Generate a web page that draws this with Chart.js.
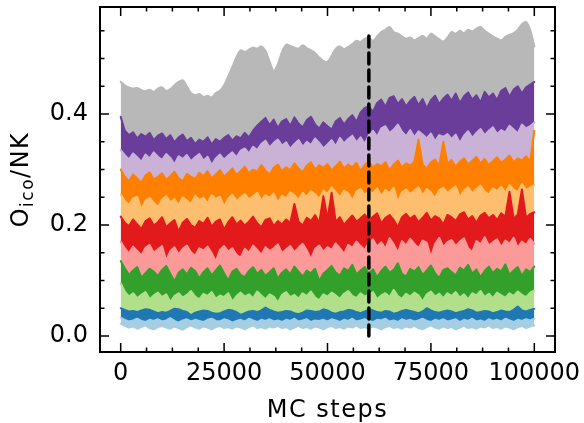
<!DOCTYPE html>
<html>
<head>
<meta charset="utf-8">
<script src="https://cdn.jsdelivr.net/npm/chart.js@4.4.1/dist/chart.umd.min.js"></script>
<style>
  html, body { margin: 0; padding: 0; background: #fff; }
  canvas { display: block; }
</style>
</head>
<body>
<canvas id="chart" width="584" height="423"></canvas>
<script>
'use strict';

// MC steps where the order parameter was sampled
var steps = [0,1000,2000,3000,4000,5000,6000,7000,8000,9000,
  10000,11000,12000,13000,14000,15000,16000,17000,18000,19000,
  20000,21000,22000,23000,24000,25000,26000,27000,28000,29000,
  30000,31000,32000,33000,34000,35000,36000,37000,38000,39000,
  40000,41000,42000,43000,44000,45000,46000,47000,48000,49000,
  50000,51000,52000,53000,54000,55000,56000,57000,58000,59000,
  60000,61000,62000,63000,64000,65000,66000,67000,68000,69000,
  70000,71000,72000,73000,74000,75000,76000,77000,78000,79000,
  80000,81000,82000,83000,84000,85000,86000,87000,88000,89000,
  90000,91000,92000,93000,94000,95000,96000,97000,98000,99000,
  100000];

// band edges: bottom of the first band, then the top of each band
var edge0 = [0.022,0.018,0.015,0.017,0.013,0.016,0.019,0.014,0.012,0.016,
  0.018,0.015,0.013,0.017,0.014,0.011,0.016,0.019,0.015,0.013,
  0.017,0.015,0.012,0.016,0.018,0.014,0.016,0.013,0.017,0.015,
  0.012,0.016,0.019,0.014,0.016,0.013,0.017,0.015,0.018,0.014,
  0.016,0.012,0.015,0.018,0.014,0.016,0.013,0.017,0.015,0.012,
  0.016,0.018,0.014,0.016,0.013,0.017,0.015,0.019,0.014,0.016,
  0.013,0.017,0.015,0.012,0.016,0.018,0.014,0.016,0.013,0.017,
  0.015,0.018,0.014,0.012,0.016,0.019,0.015,0.013,0.017,0.014,
  0.016,0.012,0.015,0.018,0.014,0.016,0.013,0.017,0.015,0.019,
  0.014,0.016,0.013,0.017,0.015,0.012,0.016,0.018,0.014,0.017,
  0.019];
var edge1 = [0.033,0.029,0.026,0.028,0.031,0.027,0.025,0.029,0.027,0.030,
  0.026,0.028,0.032,0.027,0.024,0.028,0.030,0.026,0.029,0.027,
  0.025,0.029,0.031,0.027,0.026,0.030,0.028,0.024,0.027,0.029,
  0.026,0.031,0.028,0.025,0.029,0.027,0.030,0.026,0.028,0.025,
  0.029,0.027,0.031,0.026,0.028,0.030,0.025,0.028,0.027,0.029,
  0.026,0.030,0.028,0.025,0.029,0.027,0.031,0.026,0.028,0.030,
  0.027,0.025,0.029,0.028,0.031,0.026,0.028,0.025,0.030,0.027,
  0.029,0.026,0.028,0.031,0.027,0.025,0.029,0.027,0.030,0.026,
  0.028,0.030,0.025,0.029,0.027,0.031,0.026,0.028,0.025,0.030,
  0.027,0.029,0.026,0.031,0.028,0.025,0.029,0.027,0.030,0.028,
  0.031];
var edge2 = [0.050,0.047,0.044,0.045,0.043,0.046,0.048,0.047,0.044,0.041,
  0.043,0.042,0.045,0.049,0.048,0.045,0.043,0.037,0.042,0.044,
  0.046,0.045,0.042,0.040,0.041,0.044,0.047,0.046,0.043,0.038,
  0.041,0.044,0.045,0.043,0.046,0.051,0.047,0.044,0.042,0.043,
  0.045,0.044,0.041,0.039,0.042,0.046,0.045,0.043,0.044,0.048,
  0.046,0.042,0.040,0.043,0.044,0.047,0.046,0.043,0.041,0.044,
  0.048,0.046,0.043,0.042,0.045,0.044,0.040,0.042,0.045,0.047,
  0.045,0.043,0.041,0.044,0.050,0.046,0.043,0.042,0.044,0.046,
  0.044,0.041,0.043,0.045,0.048,0.046,0.042,0.043,0.045,0.044,
  0.041,0.043,0.046,0.044,0.043,0.047,0.053,0.046,0.044,0.047,
  0.049];
var edge3 = [0.095,0.080,0.071,0.077,0.068,0.074,0.079,0.066,0.073,0.078,
  0.070,0.075,0.061,0.072,0.077,0.069,0.074,0.081,0.071,0.066,
  0.076,0.072,0.079,0.067,0.073,0.070,0.077,0.062,0.072,0.078,
  0.071,0.075,0.068,0.080,0.073,0.066,0.075,0.071,0.060,0.074,
  0.079,0.070,0.074,0.067,0.077,0.072,0.080,0.069,0.064,0.075,
  0.071,0.078,0.073,0.067,0.076,0.081,0.072,0.068,0.077,0.071,
  0.075,0.079,0.066,0.073,0.077,0.070,0.083,0.072,0.067,0.076,
  0.071,0.078,0.073,0.062,0.075,0.080,0.071,0.076,0.068,0.077,
  0.072,0.079,0.069,0.075,0.066,0.077,0.073,0.081,0.070,0.076,
  0.068,0.078,0.073,0.069,0.077,0.072,0.080,0.074,0.070,0.078,
  0.082];
var edge4 = [0.135,0.122,0.110,0.118,0.124,0.105,0.113,0.121,0.116,0.108,
  0.119,0.126,0.112,0.098,0.114,0.120,0.111,0.123,0.117,0.104,
  0.115,0.122,0.109,0.118,0.127,0.113,0.100,0.116,0.121,0.110,
  0.106,0.117,0.124,0.112,0.119,0.108,0.115,0.122,0.103,0.114,
  0.120,0.111,0.125,0.116,0.107,0.118,0.113,0.121,0.099,0.112,
  0.119,0.126,0.114,0.109,0.122,0.117,0.128,0.111,0.118,0.124,
  0.113,0.120,0.106,0.117,0.125,0.114,0.119,0.131,0.112,0.107,
  0.121,0.116,0.124,0.110,0.118,0.127,0.113,0.104,0.119,0.122,
  0.115,0.109,0.123,0.118,0.128,0.112,0.120,0.106,0.117,0.125,
  0.113,0.121,0.116,0.129,0.110,0.118,0.124,0.108,0.120,0.115,
  0.125];
var edge5 = [0.170,0.158,0.149,0.161,0.153,0.145,0.159,0.164,0.150,0.156,
  0.162,0.136,0.153,0.160,0.147,0.157,0.163,0.151,0.144,0.158,
  0.154,0.161,0.149,0.134,0.155,0.162,0.152,0.158,0.146,0.141,
  0.157,0.150,0.163,0.155,0.146,0.160,0.153,0.158,0.165,0.149,
  0.156,0.162,0.151,0.159,0.166,0.154,0.138,0.157,0.163,0.152,
  0.160,0.155,0.167,0.158,0.148,0.164,0.159,0.170,0.162,0.155,
  0.168,0.174,0.161,0.169,0.157,0.176,0.165,0.150,0.171,0.163,
  0.175,0.166,0.158,0.172,0.168,0.142,0.165,0.177,0.160,0.169,
  0.173,0.162,0.170,0.176,0.158,0.151,0.171,0.165,0.178,0.163,
  0.169,0.174,0.160,0.172,0.166,0.177,0.159,0.170,0.164,0.175,
  0.166];
var edge6 = [0.215,0.204,0.198,0.210,0.201,0.193,0.207,0.212,0.199,0.205,
  0.214,0.196,0.203,0.209,0.188,0.204,0.211,0.200,0.195,0.207,
  0.202,0.213,0.197,0.206,0.210,0.192,0.205,0.214,0.201,0.208,
  0.199,0.206,0.215,0.203,0.196,0.209,0.212,0.198,0.207,0.201,
  0.210,0.204,0.238,0.206,0.199,0.213,0.207,0.218,0.203,0.252,
  0.211,0.258,0.205,0.214,0.200,0.209,0.217,0.206,0.212,0.219,
  0.208,0.215,0.221,0.203,0.213,0.218,0.209,0.196,0.214,0.220,
  0.211,0.217,0.205,0.213,0.222,0.208,0.216,0.212,0.201,0.218,
  0.214,0.207,0.219,0.223,0.210,0.216,0.204,0.217,0.222,0.212,
  0.218,0.209,0.221,0.215,0.260,0.211,0.219,0.264,0.213,0.220,
  0.223];
var edge7 = [0.255,0.243,0.236,0.248,0.251,0.228,0.244,0.249,0.240,0.232,
  0.246,0.252,0.241,0.247,0.235,0.250,0.244,0.238,0.253,0.245,
  0.249,0.239,0.254,0.247,0.251,0.233,0.248,0.255,0.243,0.250,
  0.256,0.246,0.252,0.258,0.244,0.254,0.249,0.257,0.240,0.253,
  0.248,0.259,0.254,0.245,0.258,0.251,0.261,0.255,0.247,0.262,
  0.256,0.268,0.259,0.250,0.262,0.257,0.244,0.260,0.265,0.254,
  0.261,0.257,0.266,0.252,0.263,0.258,0.267,0.241,0.259,0.264,
  0.256,0.262,0.268,0.253,0.265,0.259,0.248,0.263,0.267,0.258,
  0.264,0.270,0.249,0.262,0.268,0.257,0.265,0.271,0.260,0.255,
  0.266,0.261,0.269,0.258,0.272,0.264,0.259,0.274,0.263,0.268,
  0.272];
var edge8 = [0.300,0.287,0.279,0.291,0.284,0.276,0.289,0.295,0.282,0.287,
  0.293,0.281,0.288,0.296,0.284,0.279,0.292,0.287,0.283,0.294,
  0.288,0.297,0.284,0.291,0.299,0.287,0.294,0.302,0.290,0.297,
  0.305,0.293,0.300,0.296,0.308,0.298,0.291,0.303,0.309,0.297,
  0.304,0.299,0.311,0.302,0.295,0.307,0.313,0.300,0.308,0.303,
  0.310,0.298,0.306,0.314,0.302,0.309,0.304,0.312,0.297,0.308,
  0.315,0.303,0.310,0.306,0.313,0.299,0.309,0.316,0.304,0.311,
  0.307,0.314,0.354,0.309,0.302,0.313,0.318,0.306,0.350,0.311,
  0.317,0.305,0.314,0.320,0.309,0.316,0.323,0.311,0.319,0.308,
  0.315,0.322,0.312,0.318,0.325,0.313,0.320,0.316,0.324,0.314,
  0.370];
var edge9 = [0.335,0.326,0.318,0.329,0.322,0.314,0.327,0.320,0.331,0.323,
  0.317,0.328,0.321,0.309,0.324,0.319,0.326,0.315,0.322,0.328,
  0.316,0.323,0.308,0.320,0.327,0.318,0.325,0.331,0.322,0.334,
  0.338,0.329,0.341,0.335,0.346,0.352,0.340,0.348,0.354,0.343,
  0.349,0.337,0.346,0.353,0.341,0.350,0.344,0.356,0.348,0.338,
  0.345,0.353,0.342,0.357,0.347,0.355,0.361,0.349,0.358,0.346,
  0.362,0.370,0.359,0.374,0.378,0.366,0.372,0.381,0.368,0.360,
  0.371,0.358,0.369,0.363,0.356,0.365,0.351,0.362,0.359,0.364,
  0.355,0.363,0.348,0.361,0.369,0.357,0.366,0.373,0.362,0.370,
  0.376,0.364,0.371,0.367,0.379,0.372,0.365,0.381,0.374,0.378,
  0.385];
var edge10 = [0.395,0.370,0.362,0.367,0.356,0.364,0.359,0.366,0.353,0.361,
  0.365,0.355,0.362,0.349,0.358,0.363,0.351,0.357,0.346,0.354,
  0.350,0.358,0.345,0.355,0.350,0.357,0.362,0.352,0.360,0.356,
  0.366,0.358,0.370,0.379,0.386,0.393,0.380,0.390,0.375,0.387,
  0.391,0.379,0.394,0.383,0.376,0.389,0.395,0.381,0.374,0.385,
  0.378,0.372,0.387,0.393,0.381,0.391,0.398,0.386,0.403,0.411,
  0.414,0.404,0.420,0.426,0.413,0.429,0.432,0.418,0.427,0.414,
  0.424,0.431,0.416,0.427,0.410,0.425,0.433,0.418,0.428,0.435,
  0.424,0.437,0.420,0.432,0.439,0.426,0.434,0.421,0.440,0.430,
  0.437,0.425,0.442,0.447,0.431,0.444,0.450,0.437,0.448,0.453,
  0.458];
var edge11 = [0.458,0.452,0.448,0.446,0.447,0.443,0.441,0.444,0.440,0.446,
  0.448,0.442,0.445,0.452,0.458,0.461,0.450,0.438,0.434,0.436,
  0.431,0.433,0.430,0.438,0.442,0.452,0.468,0.485,0.503,0.515,
  0.512,0.516,0.520,0.518,0.522,0.514,0.495,0.478,0.490,0.512,
  0.525,0.523,0.520,0.518,0.524,0.519,0.515,0.510,0.502,0.496,
  0.494,0.505,0.518,0.522,0.517,0.521,0.526,0.532,0.530,0.536,
  0.537,0.532,0.540,0.548,0.552,0.557,0.548,0.545,0.540,0.536,
  0.538,0.533,0.537,0.541,0.536,0.545,0.540,0.535,0.531,0.538,
  0.548,0.545,0.550,0.546,0.552,0.549,0.554,0.557,0.550,0.545,
  0.540,0.536,0.533,0.539,0.543,0.546,0.552,0.562,0.566,0.552,
  0.522];

var edges = [edge0, edge1, edge2, edge3, edge4, edge5, edge6, edge7, edge8, edge9, edge10, edge11];
// one colour per band, bottom to top
var bandColors = ['#a6cee3', '#1f78b4', '#b2df8a', '#33a02c', '#fb9a99', '#e31a1c',
  '#fdbf6f', '#ff7f00', '#cab2d6', '#6a3d9a', '#b8b8b8'];

// vertical marker
var markerStep = 60000;
var markerTop = 0.548;

var xTicks = [0, 25000, 50000, 75000, 100000];
var xMinor = [6250, 12500, 18750, 31250, 37500, 43750, 56250, 62500, 68750, 81250, 87500, 93750];
var yTicks = [0, 0.2, 0.4];
var yMinor = [0.05, 0.1, 0.15, 0.25, 0.3, 0.35, 0.45, 0.5, 0.55];

var FONT = 'DejaVu Sans';

var datasets = [];
for (var i = 0; i < edges.length; i++) {
  var col = i === 0 ? bandColors[0] : bandColors[i - 1];
  var isTop = i === edges.length - 1;
  datasets.push({
    data: edges[i],
    borderColor: col,
    backgroundColor: col,
    borderWidth: 2,
    fill: i === 0 ? false : '-1',
    tension: isTop ? 0.3 : 0
  });
}
datasets.push({
  data: [{x: markerStep, y: 0}, {x: markerStep, y: markerTop}],
  borderColor: '#000',
  borderWidth: 3.5,
  borderDash: [11, 6],
  fill: false,
  order: -1
});

// frame, inward ticks on all four sides, axis titles
var framePlugin = {
  id: 'framePlugin',
  afterDraw: function(chart) {
    var ctx = chart.ctx;
    var a = chart.chartArea;
    var x = chart.scales.x, y = chart.scales.y;
    ctx.save();
    ctx.strokeStyle = '#000';
    ctx.lineWidth = 2;
    ctx.strokeRect(a.left, a.top, a.right - a.left, a.bottom - a.top);

    ctx.lineWidth = 1.5;
    ctx.beginPath();
    function xt(v, len) {
      var p = x.getPixelForValue(v);
      ctx.moveTo(p, a.bottom); ctx.lineTo(p, a.bottom - len);
      ctx.moveTo(p, a.top); ctx.lineTo(p, a.top + len);
    }
    function yt(v, len) {
      var p = y.getPixelForValue(v);
      ctx.moveTo(a.left, p); ctx.lineTo(a.left + len, p);
      ctx.moveTo(a.right, p); ctx.lineTo(a.right - len, p);
    }
    xTicks.forEach(function(v) { xt(v, 9); });
    xMinor.forEach(function(v) { xt(v, 4.5); });
    yTicks.forEach(function(v) { yt(v, 9); });
    yMinor.forEach(function(v) { yt(v, 4.5); });
    ctx.stroke();

    ctx.fillStyle = '#000';
    ctx.letterSpacing = '1.5px';
    ctx.textBaseline = 'alphabetic';

    // x title
    ctx.font = '24px "' + FONT + '"';
    ctx.textAlign = 'center';
    ctx.fillText('MC steps', (a.left + a.right) / 2, 417);

    // y title with subscript
    ctx.translate(28, (a.top + a.bottom) / 2);
    ctx.rotate(-Math.PI / 2);
    ctx.textAlign = 'left';
    var big = '24px "' + FONT + '"', small = '17px "' + FONT + '"';
    ctx.font = big;
    var wO = ctx.measureText('O').width;
    var wN = ctx.measureText('/NK').width;
    ctx.font = small;
    var wi = ctx.measureText('ico').width;
    var start = -(wO + wi + wN) / 2;
    ctx.font = big;
    ctx.fillText('O', start, 0);
    ctx.font = small;
    ctx.fillText('ico', start + wO, 5);
    ctx.font = big;
    ctx.fillText('/NK', start + wO + wi, 0);
    ctx.restore();
  }
};

new Chart(document.getElementById('chart').getContext('2d'), {
  type: 'line',
  data: { labels: steps, datasets: datasets },
  options: {
    responsive: false,
    animation: false,
    events: [],
    layout: { padding: { left: 0, right: 29, top: 7, bottom: 0 } },
    plugins: { legend: { display: false }, tooltip: { enabled: false } },
    elements: { point: { radius: 0 }, line: { borderJoinStyle: 'round', borderCapStyle: 'round' } },
    scales: {
      x: {
        type: 'linear',
        min: -5000,
        max: 105000,
        grid: { display: false, drawTicks: false },
        border: { display: false },
        afterBuildTicks: function(s) { s.ticks = xTicks.map(function(v) { return {value: v}; }); },
        afterFit: function(s) { s.height = 71; s.paddingLeft = 0; s.paddingRight = 0; },
        ticks: {
          padding: 7, color: '#000', autoSkip: false, maxRotation: 0, minRotation: 0,
          font: { family: FONT, size: 24 },
          callback: function(v) { return String(v); }
        }
      },
      y: {
        min: -0.029,
        max: 0.593,
        grid: { display: false, drawTicks: false },
        border: { display: false },
        afterBuildTicks: function(s) { s.ticks = yTicks.map(function(v) { return {value: v}; }); },
        afterFit: function(s) { s.width = 100; s.paddingTop = 0; s.paddingBottom = 0; },
        ticks: {
          padding: 12, color: '#000',
          font: { family: FONT, size: 24 },
          callback: function(v) { return v.toFixed(1); }
        }
      }
    }
  },
  plugins: [framePlugin]
});
</script>
</body>
</html>
